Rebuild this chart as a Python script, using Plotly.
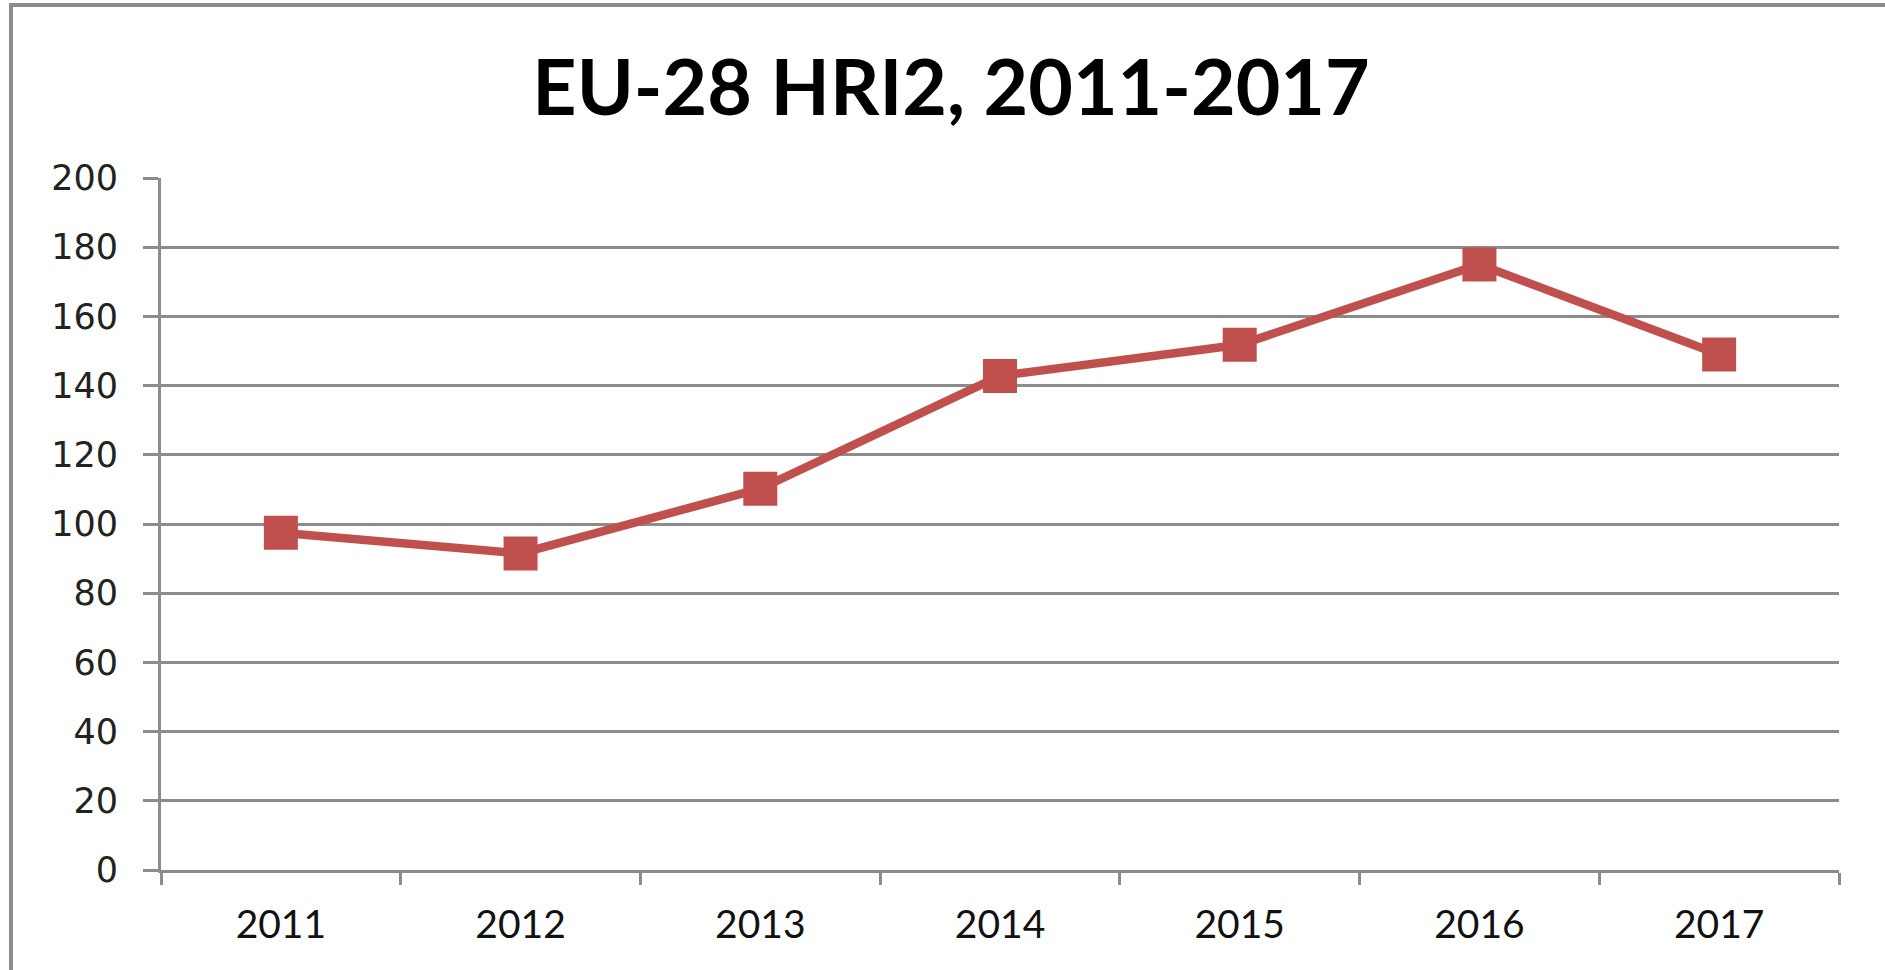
import plotly.graph_objects as go

years = ["2011", "2012", "2013", "2014", "2015", "2016", "2017"]
hri2 = [97.5, 91.5, 110.2, 142.8, 151.8, 175.0, 149.0]
y_ticks = [0, 20, 40, 60, 80, 100, 120, 140, 160, 180, 200]

W, H = 1885, 970
L, R, T, B = 161, 1839, 178, 870
GRAY = "#8c8c8c"
RED = "#C0504D"

fig = go.Figure()
fig.add_trace(go.Scatter(
    x=years, y=hri2, mode="lines+markers",
    line=dict(color=RED, width=8.5),
    marker=dict(symbol="square", size=34, color=RED),
    showlegend=False, cliponaxis=False,
))

def px(x):
    return (x - L) / (R - L)

def py(y):
    return (B - y) / (B - T)

fig.update_layout(
    width=W, height=H,
    margin=dict(l=L, r=W - R, t=T, b=H - B),
    paper_bgcolor="white", plot_bgcolor="white",
    title=dict(text="<b>EU-28 HRI2, 2011-2017</b>", xref="container", yref="container",
               x=951 / W, y=1 - 88 / H, xanchor="center", yanchor="middle",
               font=dict(family="Lato", size=77, color="#000000")),
    xaxis=dict(type="category", range=[-0.5, 6.5], tickson="boundaries",
               ticks="outside", ticklen=12, tickwidth=3, tickcolor=GRAY,
               showline=True, linecolor=GRAY, linewidth=3, showgrid=False,
               tickfont=dict(family="Lato", size=39, color="#111111"),
               ticklabelstandoff=18),
    yaxis=dict(range=[0, 200], tickvals=y_ticks, ticks="outside", ticklen=15,
               tickwidth=3, tickcolor=GRAY, showline=True, linecolor=GRAY, linewidth=3,
               showgrid=True, gridcolor=GRAY, gridwidth=3, zeroline=False,
               tickfont=dict(family="DejaVu Sans", size=35, color="#222222"),
               ticklabelstandoff=18),
    shapes=[
        dict(type="line", xref="paper", yref="paper", x0=px(11), x1=px(11), y0=py(3), y1=py(H + 5),
             line=dict(color=GRAY, width=4)),
        dict(type="line", xref="paper", yref="paper", x0=px(9), x1=px(W + 5), y0=py(5), y1=py(5),
             line=dict(color=GRAY, width=4)),
    ],
)

fig.write_html("out.html", config={"displayModeBar": False},
               post_script="document.body.style.margin='0';document.body.style.overflow='hidden';")
